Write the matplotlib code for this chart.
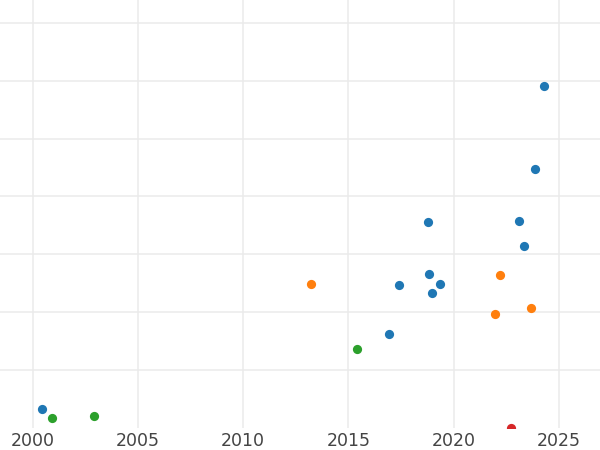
import matplotlib
matplotlib.use("Agg")
import matplotlib.pyplot as plt

# values (y axis has no labels, units = grid steps)
blue_x = [2000.43, 2024.28, 2023.87, 2018.78, 2023.12, 2023.34, 2018.82, 2017.38, 2019.34, 2018.99, 2016.92]
blue_y = [0.32, 5.92, 4.48, 3.56, 3.58, 3.15, 2.66, 2.47, 2.49, 2.33, 1.62]
orange_x = [2013.21, 2022.22, 2021.95, 2023.69]
orange_y = [2.48, 2.64, 1.96, 2.07]
green_x = [2000.93, 2002.92, 2015.40]
green_y = [0.16, 0.20, 1.36]
red_x = [2022.71]
red_y = [0.0]

x_ticks = [2000, 2005, 2010, 2015, 2020, 2025]
y_ticks = [1, 2, 3, 4, 5, 6, 7]

fig = plt.figure(figsize=(6, 4.5), dpi=100)
ax = fig.add_axes([0, 0.05, 1, 0.95])

ax.scatter(blue_x, blue_y, s=44, color="#1f77b4", zorder=3, linewidths=0)
ax.scatter(orange_x, orange_y, s=44, color="#ff7f0e", zorder=3, linewidths=0)
ax.scatter(green_x, green_y, s=44, color="#2ca02c", zorder=3, linewidths=0)
ax.scatter(red_x, red_y, s=44, color="#d62728", zorder=3, linewidths=0)

ax.set_xlim(1998.45, 2026.95)
ax.set_ylim(0, 7.40)
ax.set_xticks(x_ticks)
ax.set_yticks(y_ticks)
ax.set_yticklabels([])
ax.tick_params(axis="both", length=0, pad=3.5, labelsize=12.5, labelcolor="#444444")
ax.grid(True, color="#ebebeb", linewidth=1.1)
ax.set_axisbelow(True)
for s in ax.spines.values():
    s.set_visible(False)

fig.savefig("out.png", dpi=100)
